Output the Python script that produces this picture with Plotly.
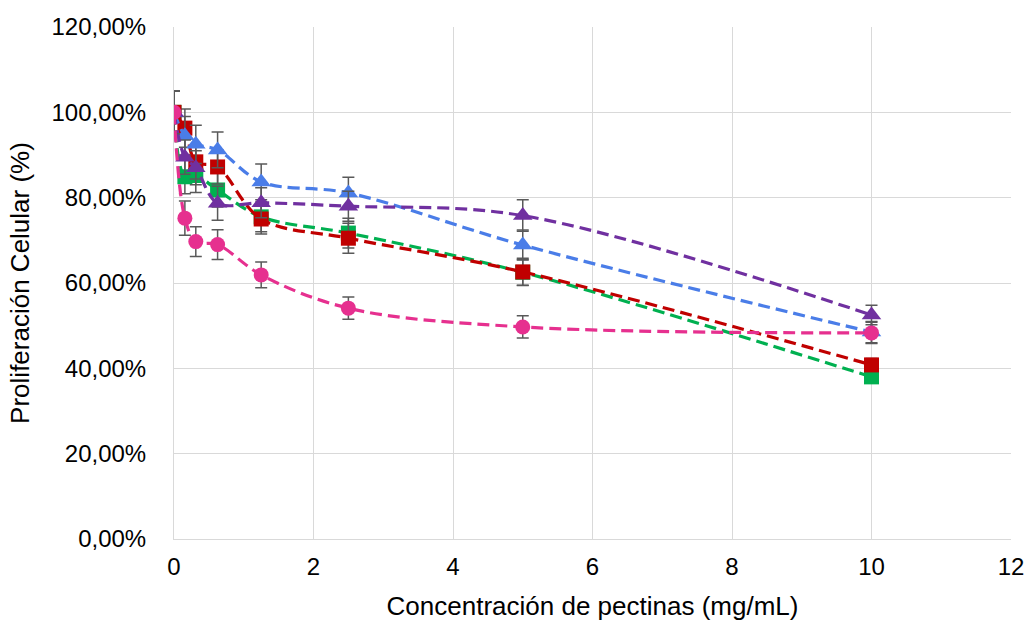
import plotly.graph_objects as go

x = [0, 0.156, 0.3125, 0.625, 1.25, 2.5, 5, 10]

green = [1.00, 0.849, 0.852, 0.818, 0.755, 0.717, 0.625, 0.380]
green_err = [0.05, 0.040, 0.040, 0.040, 0.035, 0.035, 0.030, 0.012]
red = [1.00, 0.963, 0.884, 0.872, 0.750, 0.705, 0.626, 0.408]
red_err = [0.05, 0.045, 0.040, 0.040, 0.035, 0.035, 0.032, 0.015]
blue = [1.00, 0.945, 0.925, 0.912, 0.837, 0.811, 0.689, 0.485]
blue_err = [0.05, 0.045, 0.045, 0.042, 0.042, 0.037, 0.035, 0.025]
purple = [1.00, 0.895, 0.870, 0.787, 0.788, 0.780, 0.758, 0.525]
purple_err = [0.05, 0.040, 0.040, 0.040, 0.035, 0.035, 0.037, 0.023]
pink = [1.00, 0.752, 0.697, 0.690, 0.619, 0.541, 0.497, 0.483]
pink_err = [0.05, 0.040, 0.035, 0.035, 0.030, 0.026, 0.026, 0.025]

series = [
    ("Serie verde", green, green_err, "#00B050", "square", 15),
    ("Serie roja", red, red_err, "#C00000", "square", 15),
    ("Serie azul", blue, blue_err, "#4A7DE8", "triangle-up", 17),
    ("Serie morada", purple, purple_err, "#7030A0", "triangle-up", 17),
    ("Serie rosa", pink, pink_err, "#E6308F", "circle", 15),
]

fig = go.Figure()
for name, ys, errs, color, sym, sz in series:
    fig.add_trace(go.Scatter(
        x=x, y=ys, name=name, mode="lines+markers",
        line=dict(color=color, width=3.2, dash="12px,6px", shape="spline", smoothing=1.0),
        marker=dict(symbol=sym, size=sz, color=color),
        error_y=dict(type="data", array=errs, visible=True, color="#595959",
                     thickness=1.5, width=6),
    ))

font = "Liberation Sans, Arial, sans-serif"
fig.update_layout(
    width=1026, height=622,
    margin=dict(l=174, r=15, t=27, b=83),
    paper_bgcolor="white", plot_bgcolor="white",
    separators=",.",
    showlegend=False,
    font=dict(family=font, color="#000000", size=24),
)
fig.update_xaxes(
    range=[0, 12], dtick=2, tick0=0, automargin=False,
    showgrid=True, gridcolor="#D9D9D9", gridwidth=1,
    zeroline=False, showline=True, linecolor="#D9D9D9", linewidth=1,
    ticks="", ticklabelstandoff=6,
    tickfont=dict(family=font, size=24, color="#000000"),
    title=dict(text="Concentración de pectinas (mg/mL)", standoff=18,
               font=dict(family=font, size=26, color="#000000")),
)
fig.update_yaxes(
    range=[0, 1.2], dtick=0.2, tick0=0, tickformat=".2%", automargin=False,
    showgrid=True, gridcolor="#D9D9D9", gridwidth=1,
    zeroline=False, showline=True, linecolor="#D9D9D9", linewidth=1,
    ticks="", ticklabelstandoff=22,
    tickfont=dict(family=font, size=24, color="#000000"),
    title=dict(text="Proliferación Celular (%)", standoff=14,
               font=dict(family=font, size=26, color="#000000")),
)

fig.write_html("out.html")
